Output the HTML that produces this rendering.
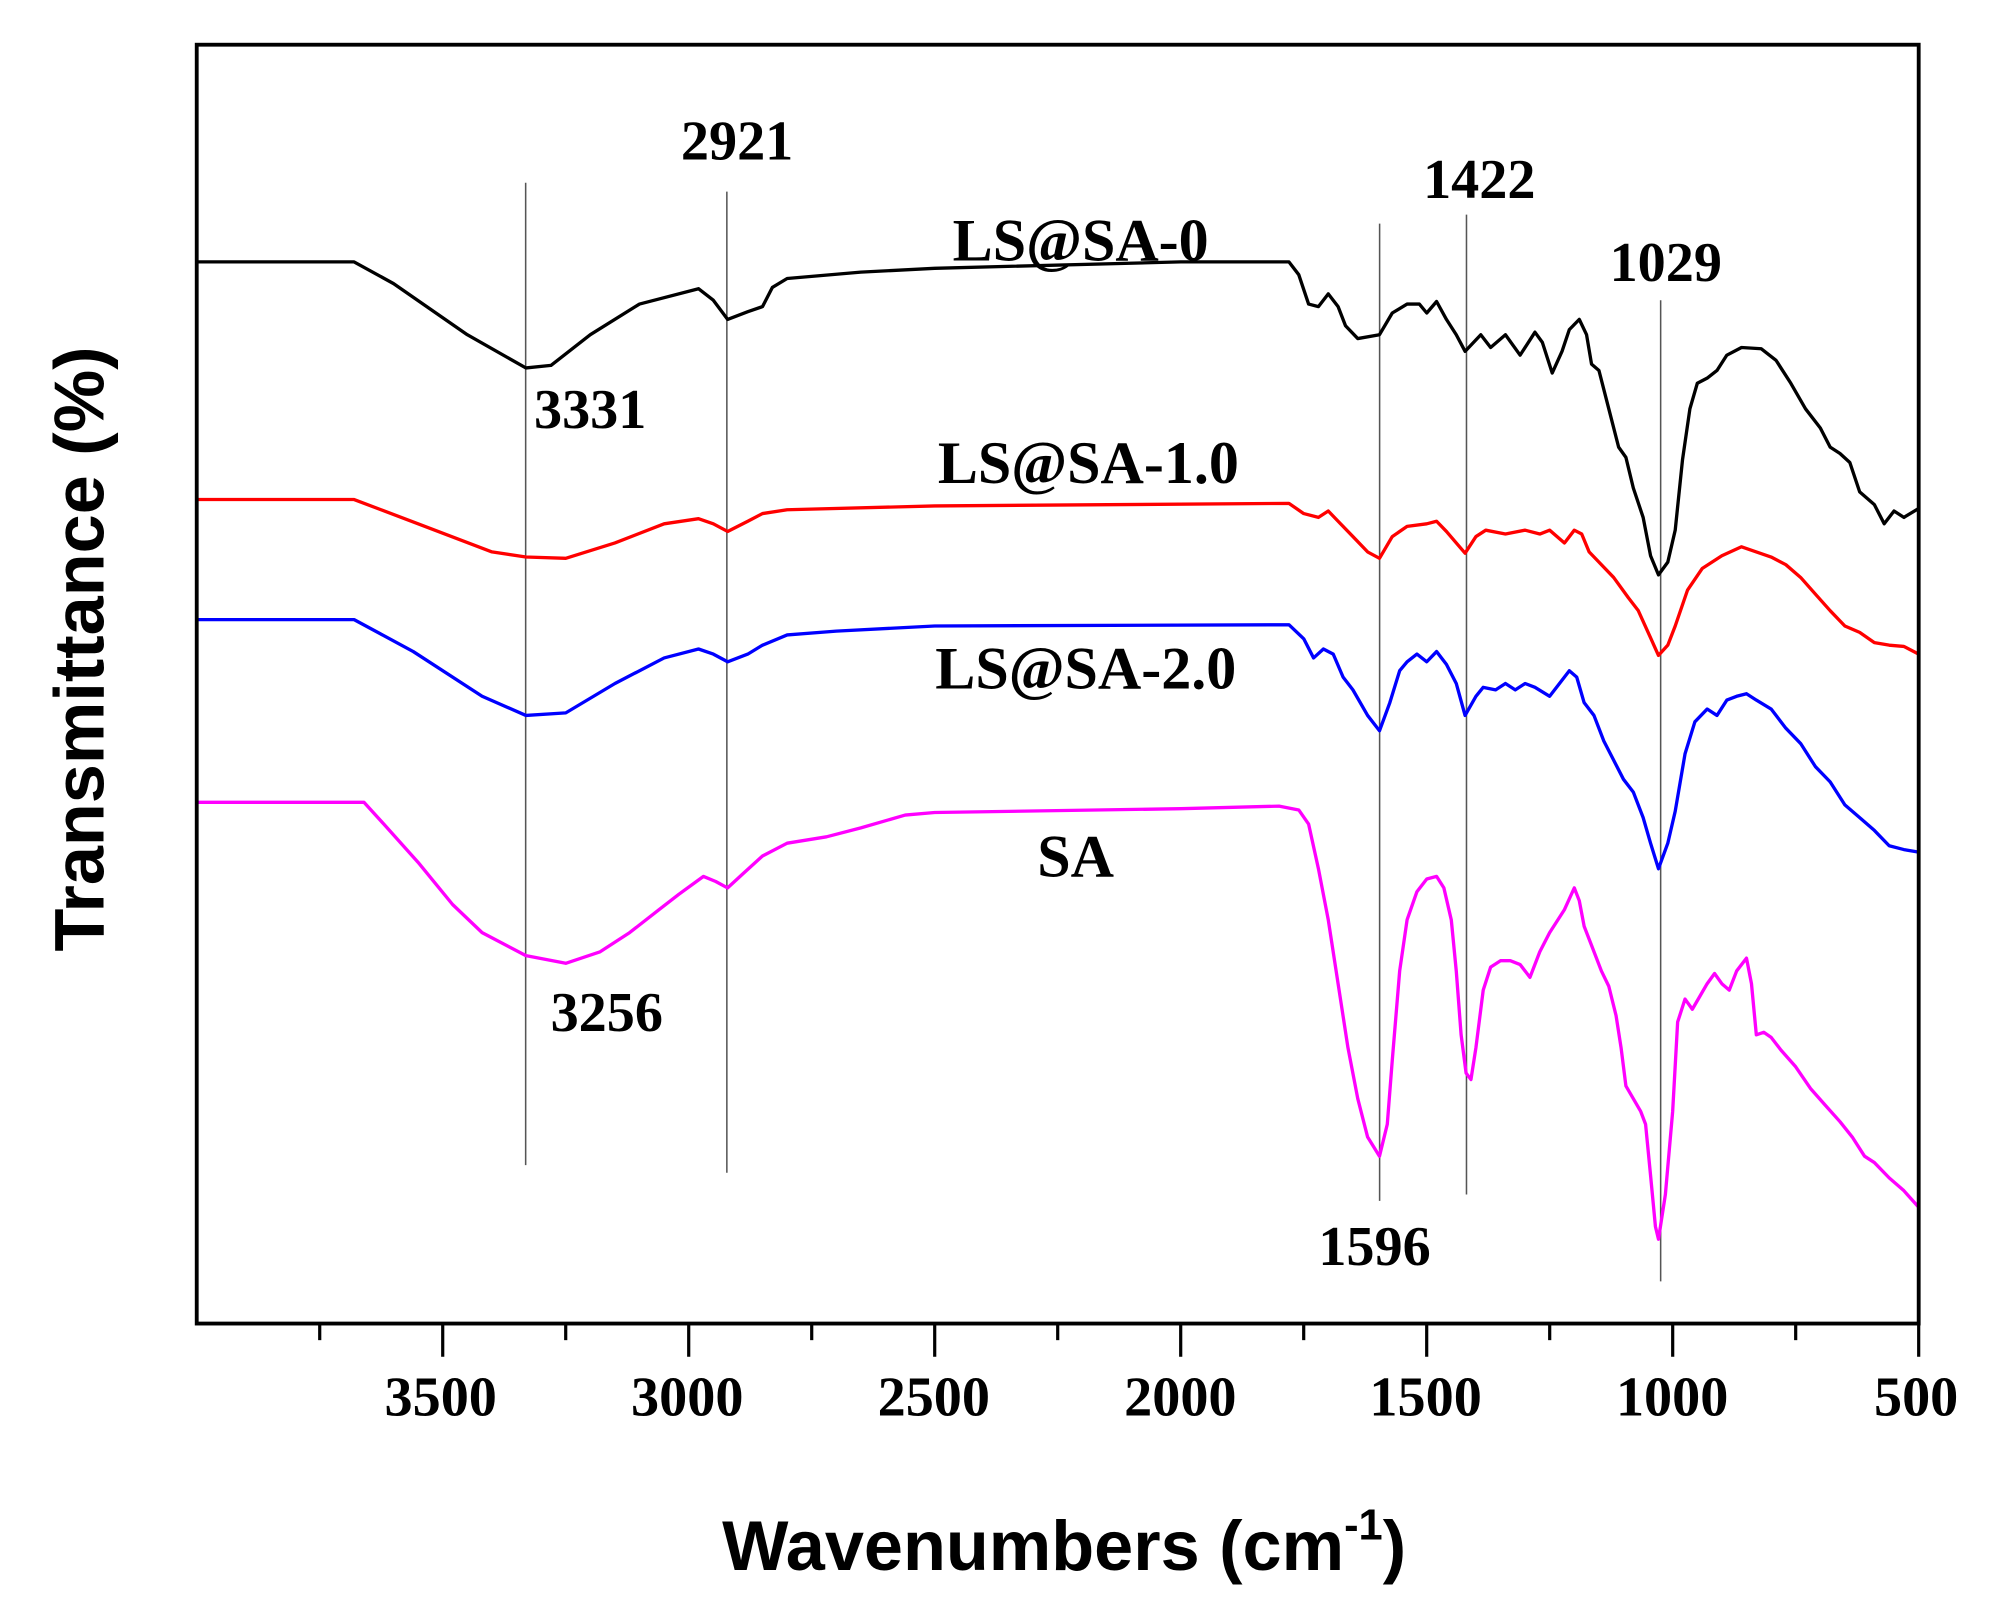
<!DOCTYPE html>
<html><head><meta charset="utf-8"><style>
html,body{margin:0;padding:0;background:#fff}
svg{display:block}
.t{font-family:"Liberation Serif",serif;font-weight:bold;font-size:44px}
.s{font-family:"Liberation Sans",sans-serif;font-weight:bold;font-size:55px}
</style></head><body>
<svg id="g" width="2003" height="1611" viewBox="0 0 1568 1261" preserveAspectRatio="none" xmlns="http://www.w3.org/2000/svg">
<rect width="1568" height="1261" fill="#fff"/>
<g stroke="#555" stroke-width="1.2">
<line x1="411.5" y1="143" x2="411.5" y2="912"/>
<line x1="569" y1="150" x2="569" y2="918"/>
<line x1="1080" y1="175" x2="1080" y2="940"/>
<line x1="1148" y1="168" x2="1148" y2="935"/>
<line x1="1300" y1="235" x2="1300" y2="1003"/>
</g>
<g id="curves" fill="none" stroke-width="2.6" stroke-linejoin="round"></g>
<rect x="154" y="35" width="1348" height="1001" fill="none" stroke="#000" stroke-width="3"/>
<g id="ticks" stroke="#000" stroke-width="2.5"></g>
<g class="t" text-anchor="middle">
<text x="345" y="1108">3500</text><text x="538" y="1108">3000</text><text x="731" y="1108">2500</text>
<text x="924" y="1108">2000</text><text x="1116" y="1108">1500</text><text x="1309" y="1108">1000</text><text x="1500" y="1108">500</text>
<text x="577" y="125">2921</text><text x="1158" y="155">1422</text><text x="1304" y="220">1029</text>
<text x="462" y="335">3331</text><text x="475" y="807">3256</text><text x="1076" y="990">1596</text>
<text x="846" y="204" font-size="47">LS@SA-0</text><text x="852" y="378" font-size="47">LS@SA-1.0</text>
<text x="850" y="539" font-size="47">LS@SA-2.0</text><text x="842" y="686" font-size="47">SA</text>
</g>
<text class="s" x="833" y="1229" text-anchor="middle">Wavenumbers (cm<tspan font-size="34" dy="-24">-1</tspan><tspan dy="24">)</tspan></text>
<text class="s" transform="translate(81,508) rotate(-90)" text-anchor="middle">Transmittance (%)</text>
</svg>
<script>
function X(w){return 154+(4000-w)/3500*1348;}
var data={
"#000":[[4000,205],[3680,205],[3600,222],[3450,262],[3331,288],[3280,286],[3200,262],[3100,238],[2980,226],[2950,235],[2921,250],[2880,244],[2850,240],[2830,225],[2800,218],[2650,213],[2500,210],[2000,205],[1780,205],[1760,215],[1740,238],[1720,240],[1700,230],[1680,240],[1665,255],[1640,265],[1596,262],[1570,245],[1540,238],[1515,238],[1500,245],[1480,236],[1460,250],[1440,262],[1422,275],[1400,266],[1390,262],[1370,272],[1340,262],[1310,278],[1280,260],[1265,268],[1245,292],[1225,275],[1210,258],[1190,250],[1175,262],[1165,285],[1150,290],[1130,320],[1110,350],[1095,358],[1080,382],[1060,405],[1045,435],[1029,450],[1010,440],[995,415],[980,360],[965,320],[950,300],[930,296],[910,290],[890,278],[860,272],[820,273],[790,282],[760,300],[730,320],[700,335],[680,350],[660,355],[640,362],[620,385],[590,395],[570,410],[550,400],[530,405],[500,398]],
"#f00":[[4000,391],[3680,391],[3550,410],[3400,432],[3331,436],[3250,437],[3150,425],[3050,410],[2980,406],[2950,410],[2921,416],[2880,408],[2850,402],[2800,399],[2500,396],[1780,394],[1750,402],[1720,405],[1700,400],[1680,408],[1650,420],[1620,432],[1596,437],[1570,420],[1540,412],[1500,410],[1480,408],[1460,416],[1440,425],[1422,433],[1400,420],[1380,415],[1340,418],[1300,415],[1270,418],[1250,415],[1220,425],[1200,415],[1185,418],[1170,432],[1150,440],[1120,452],[1090,468],[1070,478],[1050,495],[1029,513],[1010,505],[995,490],[970,462],[940,445],[900,435],[860,428],[830,432],[800,436],[770,442],[740,452],[710,465],[680,478],[650,490],[620,495],[590,503],[560,505],[530,506],[500,512]],
"#00f":[[4000,485],[3680,485],[3560,510],[3420,545],[3331,560],[3250,558],[3150,535],[3050,515],[2980,508],[2950,512],[2921,518],[2880,512],[2850,505],[2800,497],[2700,494],[2500,490],[1780,489],[1750,500],[1730,515],[1710,508],[1690,512],[1670,530],[1650,540],[1620,560],[1596,572],[1575,550],[1555,525],[1540,518],[1520,512],[1500,518],[1480,510],[1460,520],[1440,535],[1422,560],[1400,545],[1385,538],[1360,540],[1340,535],[1320,540],[1300,535],[1280,538],[1250,545],[1230,535],[1210,525],[1195,530],[1180,550],[1160,560],[1140,580],[1120,595],[1100,610],[1080,620],[1060,640],[1045,660],[1029,680],[1010,660],[995,635],[975,590],[955,565],[930,555],[910,560],[890,548],[870,545],[850,543],[830,548],[800,555],[770,570],[740,582],[710,600],[680,612],[650,630],[620,640],[590,650],[560,662],[530,665],[500,667]],
"#f0f":[[4000,628],[3660,628],[3620,645],[3550,675],[3480,708],[3420,730],[3331,748],[3250,754],[3180,745],[3120,730],[3060,712],[3020,700],[2970,686],[2945,690],[2921,695],[2890,684],[2850,670],[2800,660],[2720,655],[2650,648],[2560,638],[2500,636],[2000,633],[1800,631],[1760,634],[1740,645],[1720,680],[1700,720],[1680,770],[1660,820],[1640,860],[1620,890],[1596,905],[1580,880],[1570,830],[1555,760],[1540,720],[1520,698],[1500,688],[1480,686],[1465,695],[1450,720],[1440,760],[1430,810],[1420,840],[1410,845],[1400,820],[1385,775],[1370,757],[1350,752],[1330,752],[1310,755],[1290,765],[1270,745],[1250,730],[1220,712],[1200,695],[1190,705],[1180,725],[1165,740],[1145,760],[1130,772],[1115,795],[1105,820],[1095,850],[1080,860],[1065,870],[1055,880],[1045,920],[1035,960],[1029,970],[1015,935],[1000,870],[990,800],[975,782],[960,790],[945,780],[930,770],[915,762],[900,770],[885,775],[870,760],[850,750],[840,770],[830,810],[815,808],[800,812],[780,822],[750,835],[720,852],[690,865],[660,878],[635,890],[610,905],[590,910],[560,922],[530,932],[500,945]]};
var NS="http://www.w3.org/2000/svg",cg=document.getElementById("curves");
for(var c in data){var p=document.createElementNS(NS,"polyline");
p.setAttribute("points",data[c].map(function(a){return X(a[0]).toFixed(1)+","+a[1];}).join(" "));
p.setAttribute("stroke",c);cg.appendChild(p);}
var tg=document.getElementById("ticks");
for(var w=3750;w>=500;w-=250){var l=document.createElementNS(NS,"line");var x=X(w);
l.setAttribute("x1",x);l.setAttribute("x2",x);l.setAttribute("y1",1036);l.setAttribute("y2",w%500==0?1062:1049);tg.appendChild(l);}
</script>
</body></html>
